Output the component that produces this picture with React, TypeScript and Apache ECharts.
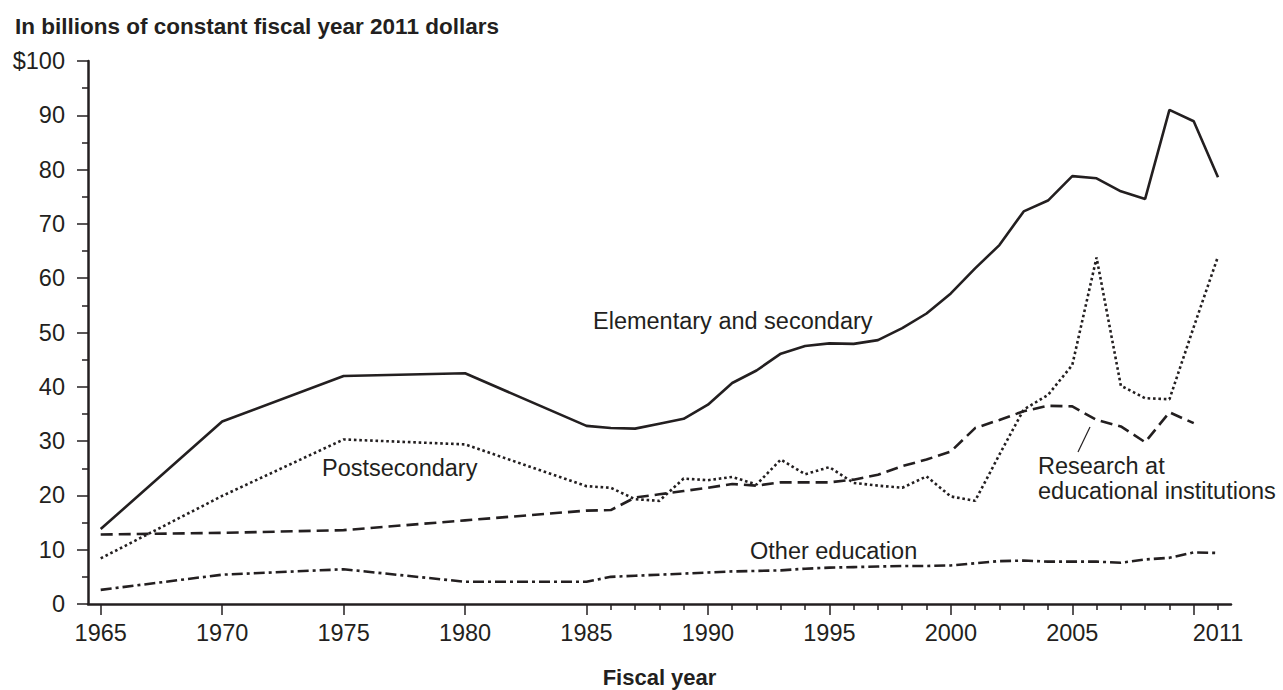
import React, { useEffect, useRef } from "react";
import * as echarts from "echarts";

const years = [1965, 1970, 1975, 1980, 1985, 1986, 1987, 1988, 1989, 1990, 1991, 1992, 1993, 1994, 1995, 1996, 1997, 1998, 1999, 2000, 2001, 2002, 2003, 2004, 2005, 2006, 2007, 2008, 2009, 2010, 2011];
const elementary = [13.8, 33.6, 42.0, 42.5, 32.8, 32.4, 32.3, 33.2, 34.1, 36.7, 40.7, 43.0, 46.1, 47.5, 48.0, 47.9, 48.6, 50.8, 53.5, 57.2, 61.8, 66.1, 72.3, 74.3, 78.8, 78.4, 76.0, 74.6, 91.0, 88.9, 78.6];
const postsecondary = [8.4, 19.9, 30.3, 29.4, 21.7, 21.4, 19.3, 19.0, 23.1, 22.8, 23.4, 22.0, 26.6, 23.9, 25.2, 22.3, 21.8, 21.4, 23.5, 19.8, 19.0, 27.5, 35.8, 38.5, 44.0, 63.8, 40.2, 37.9, 37.7, 51.0, 64.0];
const research = [12.8, 13.1, 13.6, 15.4, 17.2, 17.3, 19.6, 20.2, 20.8, 21.4, 22.1, 21.8, 22.4, 22.4, 22.4, 22.9, 23.8, 25.4, 26.6, 28.1, 32.4, 33.9, 35.5, 36.5, 36.4, 33.9, 32.7, 29.8, 35.3, 33.3, null];
const otherEducation = [2.6, 5.4, 6.4, 4.1, 4.1, 5.0, 5.2, 5.4, 5.6, 5.8, 6.0, 6.1, 6.2, 6.5, 6.7, 6.8, 6.9, 7.0, 7.0, 7.1, 7.5, 7.9, 8.0, 7.8, 7.8, 7.8, 7.6, 8.2, 8.5, 9.5, 9.4];

const majorTickYears = [1965, 1970, 1975, 1980, 1985, 1990, 1995, 2000, 2005, 2010];
const minorTickYears = [1986, 1987, 1988, 1989, 1991, 1992, 1993, 1994, 1996, 1997, 1998, 1999, 2001, 2002, 2003, 2004, 2006, 2007, 2008, 2009, 2011];
const labelYears = [1965, 1970, 1975, 1980, 1985, 1990, 1995, 2000, 2005, 2011];

const INK = "#231f20";
const FONT = "'Liberation Sans', Arial, Helvetica, sans-serif";
const FS = 23.5;

export default function App() {
  const ref = useRef<HTMLDivElement>(null);
  useEffect(() => {
    if (!ref.current) return;
    const chart = echarts.init(ref.current, null, { renderer: "svg" });
    const pair = (vals: (number | null)[]) => years.map((y, i) => [y, vals[i]]);
    const xMin = 1964.477;
    const xMax = 2011.535;
    const labelStyle = { color: INK, fontSize: FS, fontFamily: FONT };
    chart.setOption({
      animation: false,
      textStyle: { fontFamily: FONT, color: INK },
      grid: { left: 88, right: 52, top: 61, bottom: 86, containLabel: false, outerBoundsMode: "none" },
      xAxis: [
        {
          type: "value",
          min: xMin,
          max: xMax,
          position: "bottom",
          axisLine: { show: true, lineStyle: { color: INK, width: 2.5 } },
          axisTick: { show: true, customValues: majorTickYears, length: 11, lineStyle: { color: INK, width: 1.5 } },
          axisLabel: { show: true, customValues: labelYears, formatter: (v: number) => String(v), margin: 17, ...labelStyle },
          splitLine: { show: false },
          name: "Fiscal year",
          nameLocation: "middle",
          nameGap: 62,
          nameTextStyle: { color: INK, fontSize: 22, fontWeight: "bold", fontFamily: FONT },
        },
        {
          type: "value",
          min: xMin,
          max: xMax,
          position: "bottom",
          axisLine: { show: false },
          axisTick: { show: true, customValues: minorTickYears, length: 6, lineStyle: { color: INK, width: 1.5 } },
          axisLabel: { show: false },
          splitLine: { show: false },
        },
      ],
      yAxis: {
        type: "value",
        min: 0,
        max: 100,
        interval: 10,
        axisLine: { show: true, lineStyle: { color: INK, width: 2.5 } },
        axisTick: { show: true, length: 11, lineStyle: { color: INK, width: 1.5 } },
        minorTick: { show: true, splitNumber: 2, length: 6, lineStyle: { color: INK, width: 1.5 } },
        axisLabel: { margin: 23, formatter: (v: number) => (v === 100 ? "$100" : String(v)), ...labelStyle },
        splitLine: { show: false },
      },
      series: [
        {
          name: "Elementary and secondary",
          type: "line",
          data: pair(elementary),
          symbol: "none",
          lineStyle: { color: INK, width: 2.6, type: "solid" },
        },
        {
          name: "Postsecondary",
          type: "line",
          data: pair(postsecondary),
          symbol: "none",
          lineStyle: { color: INK, width: 2.6, type: [2.6, 2.8] },
        },
        {
          name: "Research at educational institutions",
          type: "line",
          data: pair(research),
          symbol: "none",
          lineStyle: { color: INK, width: 2.6, type: [12, 6] },
        },
        {
          name: "Other education",
          type: "line",
          data: pair(otherEducation),
          symbol: "none",
          lineStyle: { color: INK, width: 2.6, type: [11, 4, 3, 4] },
        },
      ],
      graphic: [
        { type: "text", x: 15, y: 26, style: { text: "In billions of constant fiscal year 2011 dollars", fill: INK, font: `bold 22.5px ${FONT}`, verticalAlign: "middle" } },
        { type: "text", x: 593, y: 321, style: { text: "Elementary and secondary", fill: INK, font: `${FS}px ${FONT}`, verticalAlign: "middle" } },
        { type: "text", x: 322, y: 468, style: { text: "Postsecondary", fill: INK, font: `${FS}px ${FONT}`, verticalAlign: "middle" } },
        { type: "text", x: 1038, y: 478, style: { text: "Research at\neducational institutions", fill: INK, font: `${FS}px ${FONT}`, lineHeight: 25, verticalAlign: "middle" } },
        { type: "text", x: 750, y: 551, style: { text: "Other education", fill: INK, font: `${FS}px ${FONT}`, verticalAlign: "middle" } },
        { type: "line", shape: { x1: 1090, y1: 427, x2: 1078, y2: 452 }, style: { stroke: INK, lineWidth: 1.2 } },
      ],
    });
    return () => chart.dispose();
  }, []);
  return <div ref={ref} style={{ position: "fixed", left: 0, top: 0, width: 1283, height: 690, background: "#fff" }} />;
}
